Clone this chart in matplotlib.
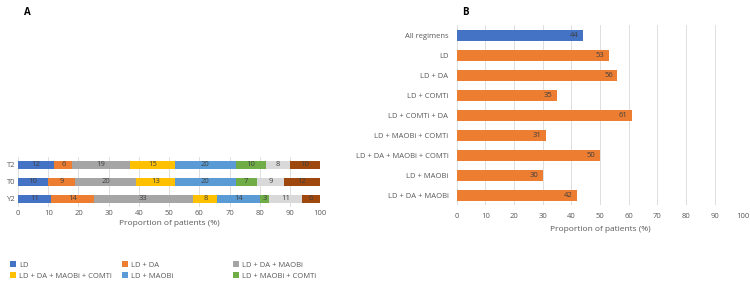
import numpy as np
import matplotlib.pyplot as plt

# Panel A: regimen mix per time point (stacked, %)
timepoints = ["Y2", "T0", "T2"]
regimens = ["LD", "LD + DA", "LD + DA + MAOBi", "LD + DA + MAOBi + COMTi",
            "LD + MAOBi", "LD + MAOBi + COMTi", "Other 1", "Other 2"]
y2_vals = [11, 14, 33, 8, 14, 3, 11, 6]
t0_vals = [10, 9, 20, 13, 20, 7, 9, 12]
t2_vals = [12, 6, 19, 15, 20, 10, 8, 10]

# Panel B: proportion of patients per regimen
groups = ["All regimens", "LD", "LD + DA", "LD + COMTi", "LD + COMTi + DA",
          "LD + MAOBi + COMTi", "LD + DA + MAOBi + COMTi", "LD + MAOBi", "LD + DA + MAOBi"]
group_vals = [44, 53, 56, 35, 61, 31, 50, 30, 42]

colors = ["#4472C4", "#ED7D31", "#A5A5A5", "#FFC000", "#5B9BD5", "#70AD47", "#D9D9D9", "#9E480E"]
txt = "#595959"
lab = "#404040"
grid_c = "#D9D9D9"

plt.rcParams['font.family'] = ['Open Sans', 'DejaVu Sans']

fig = plt.figure(figsize=(7.5, 2.82), dpi=100)

# ---- panel A
ax1 = fig.add_axes([0.024, 0.265, 0.403, 0.18])
data = np.array([y2_vals, t0_vals, t2_vals])
ypos = np.arange(len(timepoints))
left = np.zeros(len(timepoints))
handles = []
for i, name in enumerate(regimens):
    h = ax1.barh(ypos, data[:, i], left=left, height=0.5, color=colors[i], label=name, zorder=2)
    handles.append(h)
    for y, (l, v) in enumerate(zip(left, data[:, i])):
        ax1.text(l + v / 2, y, str(v), ha="center", va="center", fontsize=5.5, color=lab)
    left += data[:, i]
ax1.set_xlim(0, 100)
ax1.set_ylim(-0.5, 2.5)
ax1.set_xticks(range(0, 101, 10))
ax1.set_yticks(ypos)
ax1.set_yticklabels(timepoints)
ax1.grid(axis="x", color=grid_c, linewidth=0.6, zorder=0)
ax1.set_xlabel("Proportion of patients (%)", fontsize=6, color=txt, labelpad=2)
ax1.tick_params(labelsize=5.5, colors=txt, length=0, pad=2)
for s in ax1.spines.values():
    s.set_visible(False)

# legend: one small legend per column so the columns sit evenly spaced
col_x = [0.008, 0.157, 0.305]
for c, x in enumerate(col_x):
    idx = [c, c + 3]
    leg = fig.legend([handles[k] for k in idx], [regimens[k] for k in idx],
                     loc="upper left", bbox_to_anchor=(x, 0.088), frameon=False,
                     fontsize=5.5, labelcolor=txt, handlelength=0.8, handleheight=0.8,
                     handletextpad=0.4, labelspacing=0.5, borderpad=0)

fig.text(0.037, 0.955, "A", fontsize=7, fontweight="bold", ha="center", va="center")

# ---- panel B
ax2 = fig.add_axes([0.609, 0.273, 0.382, 0.638])
ypos2 = np.arange(len(groups))[::-1]
bar_colors = [colors[0]] + [colors[1]] * (len(groups) - 1)
ax2.barh(ypos2, group_vals, height=0.55, color=bar_colors, zorder=2)
for y, v in zip(ypos2, group_vals):
    ax2.text(v - 1.5, y, str(v), ha="right", va="center", fontsize=5.5, color=lab)
ax2.set_xlim(0, 100)
ax2.set_ylim(-0.5, len(groups) - 0.5)
ax2.set_xticks(range(0, 101, 10))
ax2.set_yticks(ypos2)
ax2.set_yticklabels(groups)
ax2.grid(axis="x", color=grid_c, linewidth=0.6, zorder=0)
ax2.set_xlabel("Proportion of patients (%)", fontsize=6, color=txt, labelpad=4)
ax2.tick_params(labelsize=5.5, colors=txt, length=0, pad=6)
for s in ax2.spines.values():
    s.set_visible(False)

fig.text(0.62, 0.955, "B", fontsize=7, fontweight="bold", ha="center", va="center")

fig.savefig("out.png", dpi=100)
